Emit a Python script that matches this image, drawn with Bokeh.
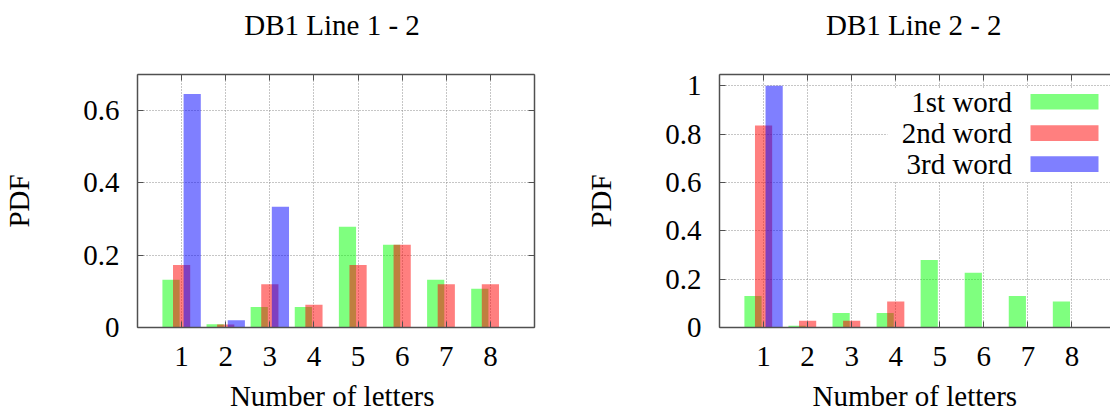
from bokeh.plotting import figure
from bokeh.models import (Range1d, FixedTicker, LinearAxis, ColumnDataSource,
                          Label, BoxAnnotation)
from bokeh.layouts import row, column
from bokeh.transform import dodge
from bokeh.embed import file_html
from bokeh.resources import INLINE

# ---------------- data ----------------
letters = [1, 2, 3, 4, 5, 6, 7, 8]

l1_first = [0.132, 0.009, 0.057, 0.057, 0.279, 0.229, 0.132, 0.107]
l1_second = [0.173, 0.008, 0.120, 0.063, 0.173, 0.229, 0.120, 0.120]
l1_third = [0.646, 0.020, 0.334, 0.0, 0.0, 0.0, 0.0, 0.0]

l2_first = [0.130, 0.007, 0.060, 0.060, 0.279, 0.227, 0.130, 0.108]
l2_second = [0.836, 0.028, 0.028, 0.108, 0.0, 0.0, 0.0, 0.0]
l2_third = [1.0, 0.0, 0.0, 0.0, 0.0, 0.0, 0.0, 0.0]

series_names = ["1st word", "2nd word", "3rd word"]
titles = ["DB1 Line 1 - 2", "DB1 Line 2 - 2"]
x_label = "Number of letters"
y_label = "PDF"
y_ticks_1 = [0, 0.2, 0.4, 0.6]
y_ticks_2 = [0, 0.2, 0.4, 0.6, 0.8, 1.0]

FONT = "Liberation Serif"
FS = "29px"
AX = "#505050"
colors = ["#00ff00", "#ff0000", "#0000ff"]
offsets = [-0.24, 0.0, 0.24]


def fmt(v):
    return "0" if v == 0 else ("1" if v == 1 else f"{v:.1f}")


def text_strip(width, height, text, x, y):
    f = figure(width=width, height=height, output_backend="svg", toolbar_location=None,
               x_axis_type=None, y_axis_type=None, x_range=Range1d(0, 1),
               y_range=Range1d(0, 1), min_border=0)
    f.title = None
    f.outline_line_color = None
    f.background_fill_color = "white"
    f.border_fill_color = "white"
    f.add_layout(Label(x=x, y=y, x_units="screen", y_units="screen", text=text,
                       text_align="center", text_baseline="alphabetic",
                       text_font=FONT, text_font_size=FS, text_color="black"))
    return f


def make_fig(ymax, xmax, yticks, width, bl, br, series, mirror_right):
    p = figure(width=width, height=314, output_backend="svg", toolbar_location=None,
               x_range=Range1d(0, xmax), y_range=Range1d(0, ymax),
               min_border_left=bl, min_border_right=br, min_border_top=14,
               min_border_bottom=47, y_axis_label=y_label)
    p.title = None
    p.outline_line_color = None
    p.background_fill_color = "white"
    p.border_fill_color = "white"

    xt = list(range(0, 10))
    for ax in p.xaxis:
        ax.ticker = FixedTicker(ticks=xt)
        ax.major_label_overrides = {0: "", 9: ""}
        ax.major_label_text_font = FONT
        ax.major_label_text_font_size = FS
        ax.major_label_text_color = "black"
        ax.major_label_standoff = 19
        ax.major_tick_in = 6
        ax.major_tick_out = 0
        ax.minor_tick_line_color = None
        ax.axis_line_color = AX
        ax.axis_line_width = 1.5
        ax.major_tick_line_color = AX
    for ax in p.yaxis:
        ax.ticker = FixedTicker(ticks=yticks)
        ax.major_label_overrides = {t: fmt(t) for t in yticks}
        ax.major_label_text_font = FONT
        ax.major_label_text_font_size = FS
        ax.major_label_text_color = "black"
        ax.major_label_standoff = 18
        ax.axis_label_text_font = FONT
        ax.axis_label_text_font_size = FS
        ax.axis_label_text_font_style = "normal"
        ax.axis_label_text_color = "black"
        ax.axis_label_standoff = 45
        ax.major_tick_in = 6
        ax.major_tick_out = 0
        ax.minor_tick_line_color = None
        ax.axis_line_color = AX
        ax.axis_line_width = 1.5
        ax.major_tick_line_color = AX

    top = LinearAxis(ticker=FixedTicker(ticks=xt),
                     major_label_overrides={t: "" for t in xt})
    top.major_tick_in = 6
    top.major_tick_out = 0
    top.minor_tick_line_color = None
    top.axis_line_color = AX
    top.axis_line_width = 1.5
    top.major_tick_line_color = AX
    top.major_label_standoff = 0
    p.add_layout(top, "above")
    if mirror_right:
        right = LinearAxis(ticker=FixedTicker(ticks=yticks),
                           major_label_overrides={t: "" for t in yticks})
        right.major_tick_in = 6
        right.major_tick_out = 0
        right.minor_tick_line_color = None
        right.axis_line_color = AX
        right.axis_line_width = 1.5
        right.major_tick_line_color = AX
        right.major_label_standoff = 0
        p.add_layout(right, "right")

    p.xgrid.ticker = FixedTicker(ticks=letters)
    p.ygrid.ticker = FixedTicker(ticks=[t for t in yticks if t != 0])
    for g in (p.xgrid, p.ygrid):
        g.grid_line_color = "#8c8c8c"
        g.grid_line_dash = "1 2"
        g.grid_line_width = 1

    src = ColumnDataSource(dict(n=letters, s0=series[0], s1=series[1], s2=series[2]))
    for i in range(3):
        p.vbar(x=dodge("n", offsets[i]), top=f"s{i}", width=0.39, bottom=0,
               source=src, fill_color=colors[i], fill_alpha=0.5, line_color=None)
    return p


p1 = make_fig(0.7, 9, y_ticks_1, 580, 137, 46,
              [l1_first, l1_second, l1_third], True)
p2 = make_fig(1.047, 8.874, y_ticks_2, 530, 139, 0,
              [l2_first, l2_second, l2_third], False)

# legend (key) on the right panel, in screen units relative to the frame
p2.add_layout(BoxAnnotation(left=168, right=420, bottom=146, top=239,
                            left_units="screen", right_units="screen",
                            bottom_units="screen", top_units="screen",
                            fill_color="white", fill_alpha=1.0, line_color=None))
rows_y = [225.7, 194.4, 163.4]
for i, name in enumerate(series_names):
    p2.add_layout(Label(x=292.5, y=rows_y[i], x_units="screen", y_units="screen",
                        text=name, text_align="right", text_baseline="middle",
                        text_font=FONT, text_font_size=FS, text_color="black"))
    p2.add_layout(BoxAnnotation(left=311, right=379, bottom=rows_y[i] - 7.8,
                                top=rows_y[i] + 7.8,
                                left_units="screen", right_units="screen",
                                bottom_units="screen", top_units="screen",
                                fill_color=colors[i], fill_alpha=0.5, line_color=None))

# strips share the frame alignment of the plot below/above them
t1 = text_strip(580, 60, titles[0], 194.5, 36)
t2 = text_strip(530, 60, titles[1], 194.3, 36)
b1 = text_strip(580, 40, x_label, 194.7, 18.5)
b2 = text_strip(530, 40, x_label, 195.3, 18.5)

layout = row(column(t1, p1, b1), column(t2, p2, b2))
open("out.html", "w").write(file_html(layout, INLINE))
